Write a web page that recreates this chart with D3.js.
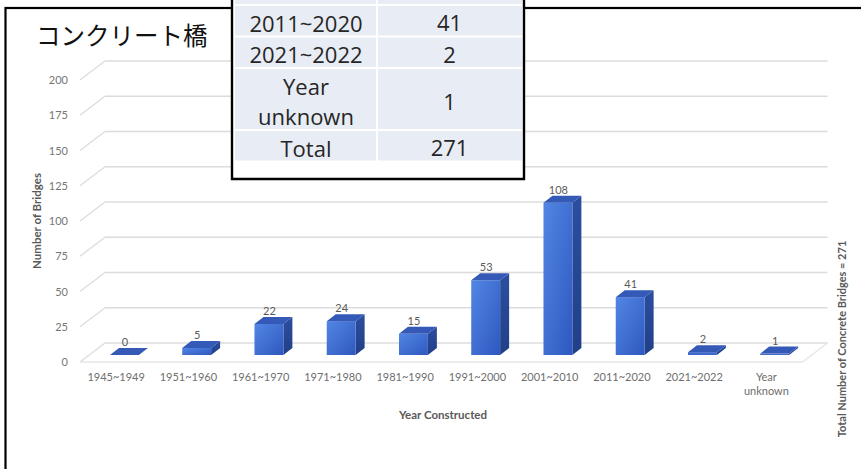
<!DOCTYPE html>
<html>
<head>
<meta charset="utf-8">
<script src="https://cdn.jsdelivr.net/npm/d3@7"></script>
<style>
  html, body { margin: 0; padding: 0; background: #fff; }
  svg { display: block; }
</style>
</head>
<body>
<div id="chart"></div>
<script>
// Concrete bridges by construction period
const categories = ["1945~1949", "1951~1960", "1961~1970", "1971~1980", "1981~1990",
                    "1991~2000", "2001~2010", "2011~2020", "2021~2022", "Year unknown"];
const bridgeCounts = [0, 5, 22, 24, 15, 53, 108, 41, 2, 1];
const yTicks = [0, 25, 50, 75, 100, 125, 150, 175, 200];

// Summary table rows (the top row runs off the top edge)
const tableLabels = ["2001~2010", "2011~2020", "2021~2022", "Year unknown", "Total"];
const tableValues = [108, 41, 2, 1, 271];

const W = 861, H = 469;
const svg = d3.select("#chart").append("svg").attr("width", W).attr("height", H);

const defs = svg.append("defs");
const gFront = defs.append("linearGradient").attr("id", "frontGrad")
  .attr("x1", "0").attr("y1", "0").attr("x2", "1").attr("y2", "1");
gFront.append("stop").attr("offset", "0").attr("stop-color", "#5286e4");
gFront.append("stop").attr("offset", "1").attr("stop-color", "#2e58bf");
const gSide = defs.append("linearGradient").attr("id", "sideGrad")
  .attr("x1", "0").attr("y1", "0").attr("x2", "0").attr("y2", "1");
gSide.append("stop").attr("offset", "0").attr("stop-color", "#2c4e9f");
gSide.append("stop").attr("offset", "1").attr("stop-color", "#213f88");

// Scales
const x = d3.scaleBand().domain(categories).range([80, 802.5]).padding(0);
const y = d3.scaleLinear().domain([0, 200]).range([355, 73]);

// 3D offsets: bar depth and wall depth
const DX = 9, DY = -7;
const WX = 25, WFront = 7, WBack = -12;
const barW = x.bandwidth() * 0.4;
const frontX = d => x(d) + x.bandwidth() * 0.415;

const grid = svg.append("g").attr("fill", "none").attr("stroke", "#dcdcdc").attr("stroke-width", 1.3);
// side-wall diagonals and back-wall gridlines
yTicks.forEach(t => {
  grid.append("line")
    .attr("x1", 80).attr("y1", y(t) + WFront)
    .attr("x2", 80 + WX).attr("y2", y(t) + WBack);
  grid.append("line")
    .attr("x1", 80 + WX).attr("y1", y(t) + WBack)
    .attr("x2", x.range()[1] + WX).attr("y2", y(t) + WBack);
});
// floor front edge and right edge
grid.append("line")
  .attr("x1", 80).attr("y1", y(0) + WFront)
  .attr("x2", x.range()[1]).attr("y2", y(0) + WFront)
  .attr("stroke", "#e6e6e6");
grid.append("line")
  .attr("x1", x.range()[1]).attr("y1", y(0) + WFront)
  .attr("x2", x.range()[1] + WX).attr("y2", y(0) + WBack)
  .attr("stroke", "#e6e6e6");

// Y tick labels
svg.append("g").selectAll("text").data(yTicks).join("text")
  .attr("x", 68).attr("y", t => y(t) + WFront + 4)
  .attr("text-anchor", "end")
  .attr("font-family", "Lato, 'Open Sans', sans-serif").attr("font-size", 11)
  .attr("fill", "#767676")
  .text(t => t);

// Bars
const bars = svg.append("g").selectAll("g").data(categories).join("g");
bars.each(function (cat, i) {
  const g = d3.select(this);
  const v = bridgeCounts[i];
  const fx = frontX(cat), top = y(v), base = y(0);
  // right side face
  g.append("path")
    .attr("d", `M${fx + barW},${top} L${fx + barW + DX},${top + DY} L${fx + barW + DX},${base + DY} L${fx + barW},${base} Z`)
    .attr("fill", "url(#sideGrad)");
  // front face
  if (base - top > 0) {
    g.append("rect")
      .attr("x", fx).attr("y", top)
      .attr("width", barW).attr("height", base - top)
      .attr("fill", v > 3 ? "url(#frontGrad)" : "#3f6acb");
  }
  // top face
  g.append("path")
    .attr("d", `M${fx},${top} L${fx + DX},${top + DY} L${fx + barW + DX},${top + DY} L${fx + barW},${top} Z`)
    .attr("fill", "#3459b6");
});

// Value labels
svg.append("g").selectAll("text").data(categories).join("text")
  .attr("x", d => frontX(d) + barW / 2 + 0.5)
  .attr("y", (d, i) => y(bridgeCounts[i]) + DY - 2)
  .attr("text-anchor", "middle")
  .attr("font-family", "Lato, 'Open Sans', sans-serif").attr("font-size", 11)
  .attr("fill", "#595959")
  .text((d, i) => bridgeCounts[i]);

// Category labels
const catG = svg.append("g")
  .attr("font-family", "Lato, 'Open Sans', sans-serif").attr("font-size", 11)
  .attr("fill", "#6e6e6e").attr("text-anchor", "middle");
categories.forEach(cat => {
  const cx = x(cat) + x.bandwidth() / 2;
  const words = cat === "Year unknown" ? ["Year", "unknown"] : [cat];
  const t = catG.append("text").attr("x", cx).attr("y", 381);
  words.forEach((w, k) => t.append("tspan").attr("x", cx).attr("dy", k === 0 ? 0 : 14).text(w));
});

// Axis titles
svg.append("text")
  .attr("transform", "translate(41,221) rotate(-90)")
  .attr("text-anchor", "middle")
  .attr("font-family", "Lato, 'Open Sans', sans-serif").attr("font-size", 11.5).attr("font-weight", "bold")
  .attr("fill", "#595959")
  .text("Number of Bridges");
svg.append("text")
  .attr("x", 443).attr("y", 419)
  .attr("text-anchor", "middle")
  .attr("font-family", "Lato, 'Open Sans', sans-serif").attr("font-size", 11.5).attr("font-weight", "bold")
  .attr("fill", "#595959")
  .text("Year Constructed");
svg.append("text")
  .attr("transform", "translate(846,339) rotate(-90)")
  .attr("text-anchor", "middle")
  .attr("font-family", "Lato, 'Open Sans', sans-serif").attr("font-size", 11).attr("font-weight", "bold")
  .attr("fill", "#595959")
  .text("Total Number of Concrete Bridges = 271");

// Outer frame
svg.append("rect")
  .attr("x", 5.5).attr("y", 8).attr("width", W + 20).attr("height", H + 20)
  .attr("fill", "none").attr("stroke", "#000").attr("stroke-width", 2.2);

// Title
svg.append("text")
  .attr("x", 36).attr("y", 45)
  .attr("font-family", "'Noto Sans CJK JP', sans-serif").attr("font-size", 24.5)
  .attr("fill", "#111")
  .text("コンクリート橋");

// Summary table
const tbl = svg.append("g");
const tLeft = 235, tRight = 522, tMid = 377, rowH = 31.5;
let yCursor = 5 - rowH;
tbl.append("rect").attr("x", 232).attr("y", -5).attr("width", 292).attr("height", 184)
  .attr("fill", "#fff");
tableLabels.forEach((lab, i) => {
  const lines = lab === "Year unknown" ? ["Year", "unknown"] : [lab];
  const h = rowH * lines.length - (lines.length - 1) * 1;
  const y0 = yCursor, y1 = yCursor + h;
  tbl.append("rect").attr("x", tLeft).attr("y", y0 + 1).attr("width", tMid - tLeft - 1).attr("height", h - 2)
    .attr("fill", "#e8ecf4");
  tbl.append("rect").attr("x", tMid + 1).attr("y", y0 + 1).attr("width", tRight - tMid - 1).attr("height", h - 2)
    .attr("fill", "#e8ecf4");
  lines.forEach((ln, k) => {
    tbl.append("text")
      .attr("x", (tLeft + tMid) / 2).attr("y", y1 - 5 - (lines.length - 1 - k) * 30)
      .attr("text-anchor", "middle")
      .attr("font-family", "'Open Sans', sans-serif").attr("font-size", 22)
      .attr("fill", "#262626").text(ln);
  });
  tbl.append("text")
    .attr("x", (tMid + tRight) / 2).attr("y", (y0 + y1) / 2 + 10.5)
    .attr("text-anchor", "middle")
    .attr("font-family", "'Open Sans', sans-serif").attr("font-size", 22)
    .attr("fill", "#262626").text(tableValues[i]);
  yCursor = y1;
});
tbl.append("path")
  .attr("d", "M232,-5 L232,179 L524,179 L524,-5")
  .attr("fill", "none").attr("stroke", "#000").attr("stroke-width", 2.4);
</script>
</body>
</html>
